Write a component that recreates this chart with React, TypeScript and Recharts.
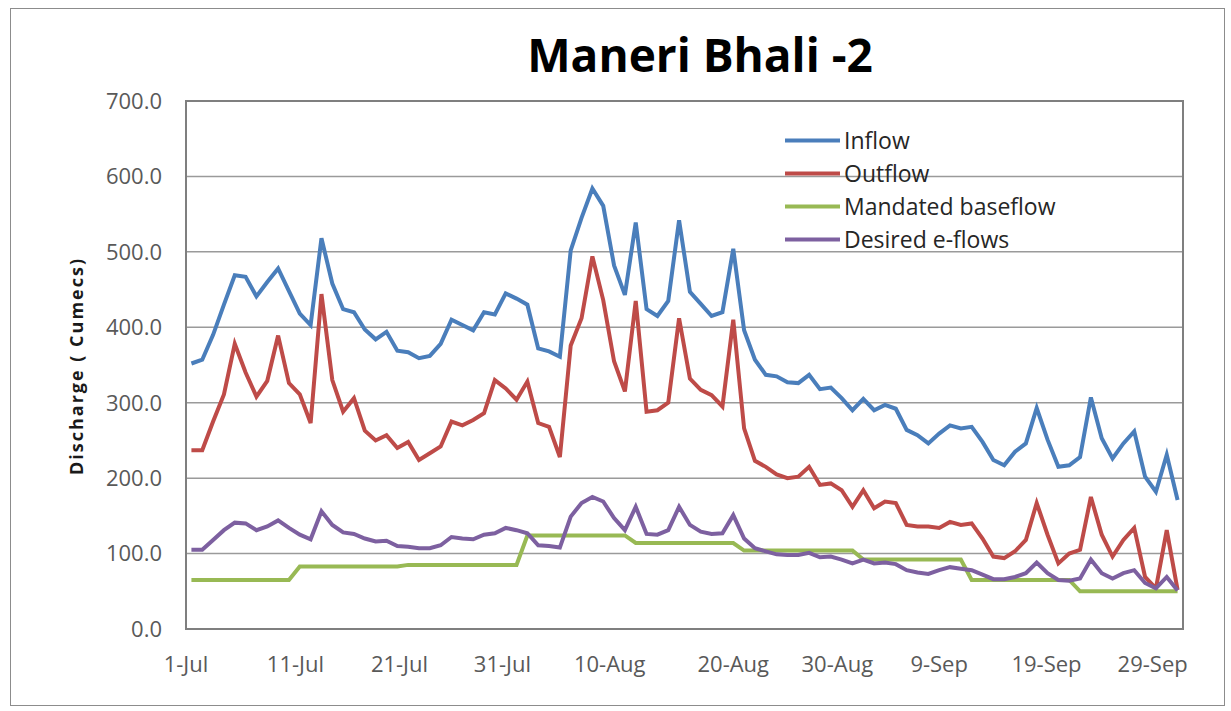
import React from "react";
import { LineChart, Line, XAxis, YAxis, CartesianGrid, Legend, ReferenceArea } from "recharts";

const months: [string, number][] = [["Jul", 31], ["Aug", 31], ["Sep", 30]];
const categories: string[] = months.flatMap(([m, n]) => Array.from({ length: n }, (_, i) => `${i + 1}-${m}`));

const inflow = [
  352, 357, 390, 430, 469, 467, 441, 460, 478, 448,
  418, 403, 518, 458, 424, 420, 397, 384, 394, 369,
  367, 359, 362, 378, 410, 403, 396, 420, 417, 445,
  438, 430, 372, 368, 361, 502, 545, 584, 561, 482,
  443, 539, 424, 415, 435, 542, 447, 431, 415, 420,
  504, 396, 357, 337, 335, 327, 326, 337, 318, 320,
  306, 290, 305, 290, 297, 292, 264, 257, 246, 259,
  270, 266, 268, 248, 224, 217, 235, 246, 293, 251,
  215, 217, 228, 307, 253, 226, 246, 262, 202, 182,
  231, 171,
];

const outflow = [
  237, 237, 275, 311, 378, 340, 308, 329, 389, 326,
  311, 273, 444, 330, 288, 306, 263, 250, 257, 240,
  248, 224, 233, 242, 275, 270, 277, 286, 330, 319,
  304, 328, 273, 268, 228, 376, 412, 494, 436, 355,
  315, 435, 288, 290, 300, 412, 332, 317, 310, 295,
  410, 266, 223, 215, 205, 200, 202, 215, 191, 193,
  184, 162, 184, 160, 169, 167, 138, 136, 136, 134,
  142, 138, 140, 120, 96, 94, 103, 118, 167, 125,
  87, 100, 105, 175, 125, 96, 118, 134, 69, 54,
  131, 52,
];

const mandated = [
  65, 65, 65, 65, 65, 65, 65, 65, 65, 65,
  83, 83, 83, 83, 83, 83, 83, 83, 83, 83,
  85, 85, 85, 85, 85, 85, 85, 85, 85, 85,
  85, 124, 124, 124, 124, 124, 124, 124, 124, 124,
  124, 114, 114, 114, 114, 114, 114, 114, 114, 114,
  114, 104, 104, 104, 104, 104, 104, 104, 104, 104,
  104, 104, 92, 92, 92, 92, 92, 92, 92, 92,
  92, 92, 65, 65, 65, 65, 65, 65, 65, 65,
  65, 65, 50, 50, 50, 50, 50, 50, 50, 50,
  50, 50,
];

const desired = [
  105, 105, 118, 131, 141, 140, 131, 136, 144, 134,
  125, 119, 156, 138, 128, 126, 120, 116, 117, 110,
  109, 107, 107, 111, 122, 120, 119, 125, 127, 134,
  131, 127, 111, 110, 108, 149, 167, 175, 169, 147,
  131, 162, 126, 125, 131, 162, 138, 129, 126, 127,
  151, 120, 107, 103, 99, 98, 98, 101, 95, 96,
  92, 87, 92, 87, 88, 86, 78, 75, 73, 78,
  82, 80, 78, 72, 66, 66, 69, 74, 88, 74,
  65, 64, 67, 92, 74, 67, 74, 78, 61, 54,
  69, 51,
];

const yTicks = [0, 100, 200, 300, 400, 500, 600, 700];
const xTickLabels = ["1-Jul", "11-Jul", "21-Jul", "31-Jul", "10-Aug", "20-Aug", "30-Aug", "9-Sep", "19-Sep", "29-Sep"];
const xTickPositions = [-0.5, 9.6, 19.2, 28.7, 38.6, 50.0, 59.6, 69.0, 78.9, 88.7];

const seriesInfo = [
  { key: "inflow", name: "Inflow", color: "#4A7EBB" },
  { key: "outflow", name: "Outflow", color: "#BE4B48" },
  { key: "mandated", name: "Mandated baseflow", color: "#98B954" },
  { key: "desired", name: "Desired e-flows", color: "#7D60A0" },
];

const data = categories.map((date, i) => ({
  idx: i,
  date,
  inflow: inflow[i],
  outflow: outflow[i],
  mandated: mandated[i],
  desired: desired[i],
}));

const FONT = '"Open Sans", "Noto Sans", sans-serif';

const renderLegend = () => (
  <div style={{ fontFamily: FONT, fontSize: 23, color: "#262626" }}>
    {seriesInfo.map((s) => (
      <div key={s.key} style={{ display: "flex", alignItems: "center", height: 33 }}>
        <svg width={55} height={33} style={{ display: "block" }}>
          <line x1={0} x2={55} y1={16.5} y2={16.5} stroke={s.color} strokeWidth={4} />
        </svg>
        <span style={{ marginLeft: 4, lineHeight: "33px", whiteSpace: "nowrap" }}>{s.name}</span>
      </div>
    ))}
  </div>
);

export default function App() {
  return (
    <div style={{ position: "absolute", left: 0, top: 0, width: 1231, height: 711, background: "#fff" }}>
      <div
        style={{
          position: "absolute",
          left: 10,
          top: 8,
          width: 1213,
          height: 696,
          border: "1px solid #8c8c8c",
        }}
      />
      <div style={{ position: "absolute", left: 0, top: 0 }}>
        <LineChart
          width={1231}
          height={711}
          data={data}
          margin={{ top: 101, right: 48, bottom: 32, left: 0 }}
        >
          <CartesianGrid horizontal vertical={false} stroke="#9a9a9a" strokeWidth={1.5} />
          <XAxis
            dataKey="idx"
            type="number"
            domain={[-0.5, 91.5]}
            ticks={xTickPositions}
            interval={0}
            tickFormatter={(v: number) => {
              const k = xTickPositions.indexOf(v);
              return k >= 0 ? xTickLabels[k] : "";
            }}
            height={50}
            tickLine={false}
            tickSize={6}
            tickMargin={21}
            axisLine={{ stroke: "#7f7f7f", strokeWidth: 2 }}
            tick={{ fill: "#595959", fontSize: 22, fontFamily: FONT }}
          />
          <YAxis
            type="number"
            domain={[0, 700]}
            ticks={yTicks}
            interval={0}
            width={186}
            tickFormatter={(v: number) => v.toFixed(1)}
            tickLine={false}
            tickSize={6}
            tickMargin={18}
            axisLine={{ stroke: "#7f7f7f", strokeWidth: 2 }}
            tick={{ fill: "#595959", fontSize: 22, fontFamily: FONT }}
          />
          <ReferenceArea
            x1={-0.5}
            x2={91.5}
            y1={0}
            y2={700}
            fill="none"
            fillOpacity={0}
            stroke="#7f7f7f"
            strokeWidth={2}
          />
          {seriesInfo.map((s) => (
            <Line
              key={s.key}
              type="linear"
              dataKey={s.key}
              name={s.name}
              stroke={s.color}
              strokeWidth={4}
              dot={false}
              activeDot={false}
              isAnimationActive={false}
            />
          ))}
          <Legend
            layout="vertical"
            align="center"
            verticalAlign="middle"
            content={renderLegend}
            wrapperStyle={{ left: 785, top: 124, width: 330, height: 140 }}
          />
        </LineChart>
      </div>
      <svg
        width={1231}
        height={711}
        style={{ position: "absolute", left: 0, top: 0, pointerEvents: "none" }}
      >
        <text
          x={700}
          y={72}
          textAnchor="middle"
          fontFamily={FONT}
          fontWeight={700}
          fontSize={46}
          fill="#000"
        >
          Maneri Bhali -2
        </text>
        <text
          x={83}
          y={366}
          transform="rotate(-90 83 366)"
          textAnchor="middle"
          fontFamily={FONT}
          fontWeight={700}
          fontSize={18}
          letterSpacing={2}
          fill="#1a1a1a"
        >
          Discharge ( Cumecs)
        </text>
      </svg>
    </div>
  );
}
